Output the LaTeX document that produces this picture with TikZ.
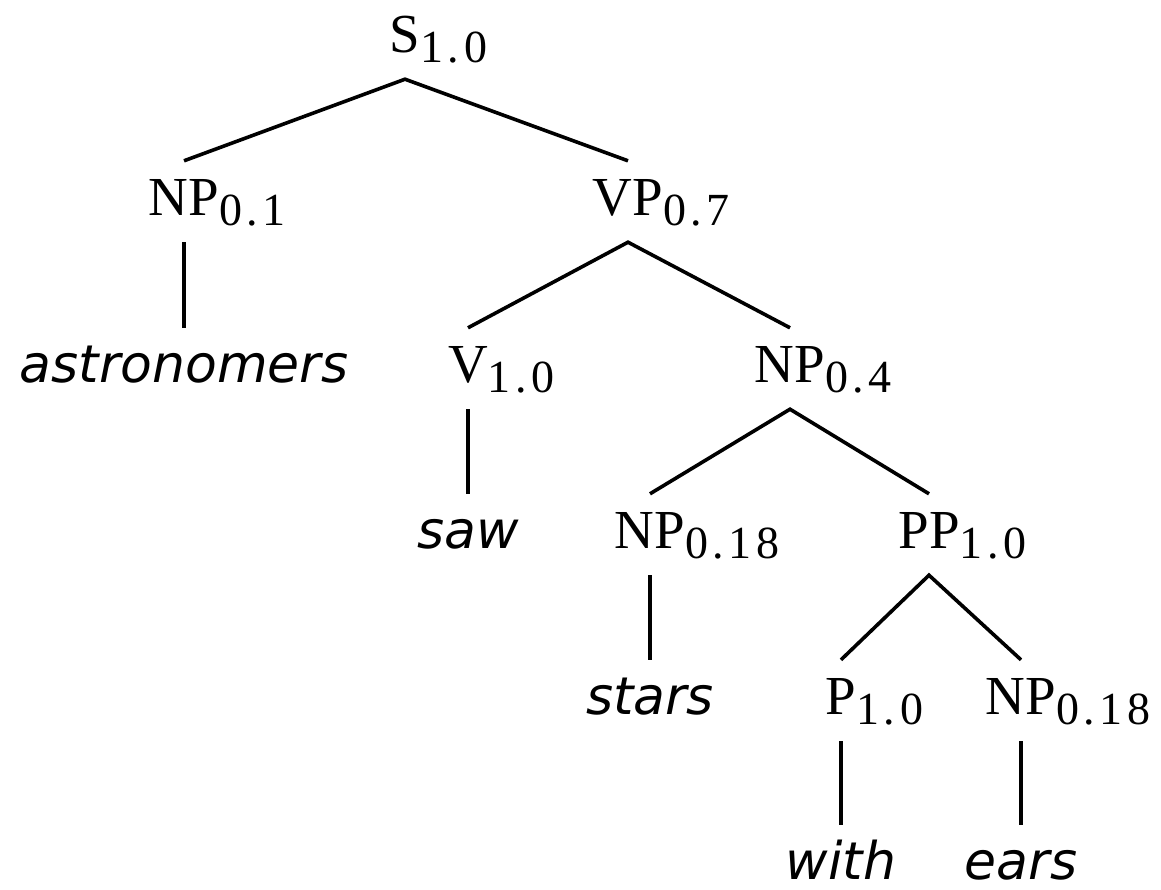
\documentclass[tikz,border=0pt]{standalone}
\usepackage{fontspec}
\newfontfamily\labfont{Liberation Serif}
\newfontfamily\wordfont{DejaVu Sans}
\newcommand\lab[2]{#1\rlap{\raisebox{-10pt}{\fontsize{46}{46}\selectfont\addfontfeature{LetterSpace=10}#2}}}
\begin{document}
\begin{tikzpicture}[x=1pt,y=-1pt,
  cat/.style={font=\labfont\fontsize{55}{60}\selectfont, inner sep=0pt, anchor=base, text height=54pt, text depth=27pt},
  leaf/.style={font=\wordfont\itshape\fontsize{52}{56}\selectfont, inner sep=0pt, anchor=base, text height=54pt, text depth=1pt},
  edge/.style={line width=3.6pt}]
\path[use as bounding box] (0,0) rectangle (1161,889);
\node[cat] (s) at (405,52) {\lab{S}{1.0}};
\node[cat] (np1) at (184,215) {\lab{NP}{0.1}};
\node[cat] (vp) at (628,215) {\lab{VP}{0.7}};
\node[leaf] (astr) at (184,382) {astronomers};
\node[cat] (v) at (468,382) {\lab{V}{1.0}};
\node[cat] (np4) at (790,382) {\lab{NP}{0.4}};
\node[leaf] (saw) at (468,548) {saw};
\node[cat] (np18a) at (650,548) {\lab{NP}{0.18}};
\node[cat] (pp) at (929,548) {\lab{PP}{1.0}};
\node[leaf] (stars) at (650,714) {stars};
\node[cat] (p) at (841,714) {\lab{P}{1.0}};
\node[cat] (np18b) at (1021,714) {\lab{NP}{0.18}};
\node[leaf] (with) at (841,879) {with};
\node[leaf] (ears) at (1021,879) {ears};
\draw[edge] (np1.north) -- (s.south) -- (vp.north);
\draw[edge] (np1.south) -- (astr.north);
\draw[edge] (v.north) -- (vp.south) -- (np4.north);
\draw[edge] (v.south) -- (saw.north);
\draw[edge] (np18a.north) -- (np4.south) -- (pp.north);
\draw[edge] (np18a.south) -- (stars.north);
\draw[edge] (p.north) -- (pp.south) -- (np18b.north);
\draw[edge] (p.south) -- (with.north);
\draw[edge] (np18b.south) -- (ears.north);
\end{tikzpicture}
\end{document}
